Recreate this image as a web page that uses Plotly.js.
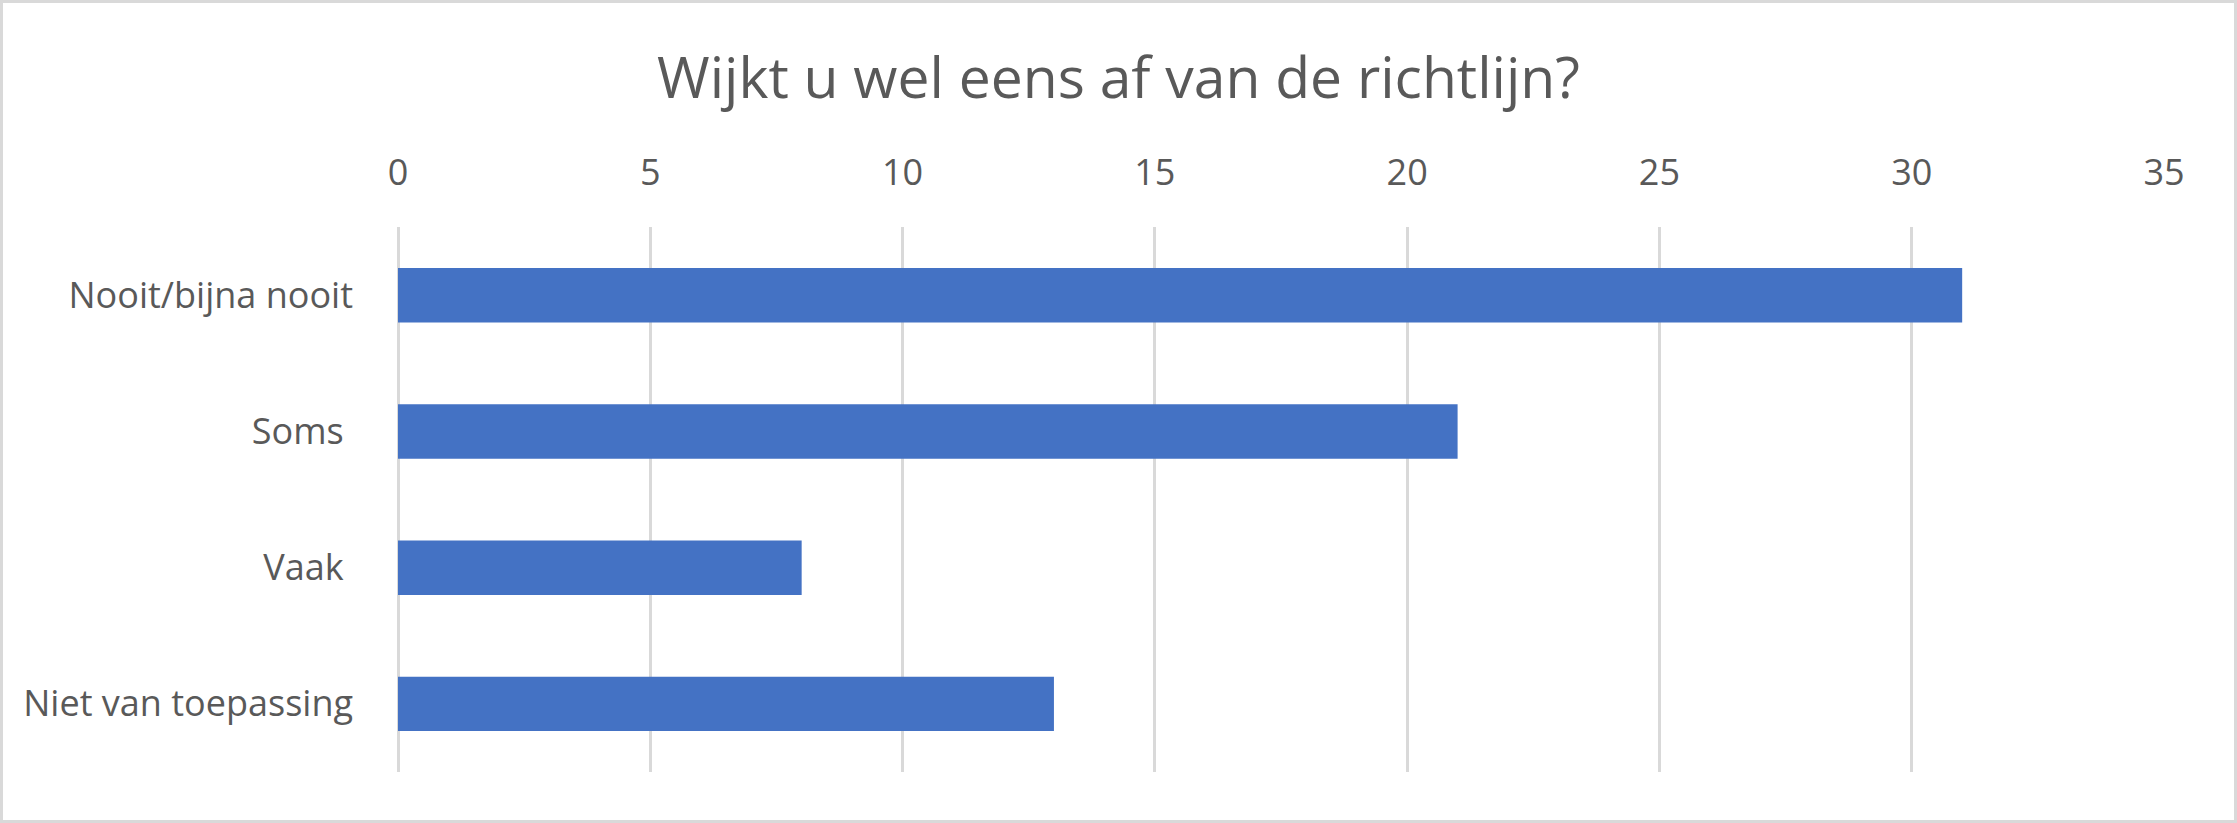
<!DOCTYPE html>
<html>
<head>
<meta charset="utf-8">
<script src="https://cdn.plot.ly/plotly-3.0.1.min.js"></script>
<style>
  html, body { margin: 0; padding: 0; background: #fff; }
  #chart { width: 2237px; height: 823px; box-sizing: border-box; border: 3px solid #D9D9D9; }
</style>
</head>
<body>
<div id="chart"></div>
<script>
const categories = ["Nooit/bijna nooit", "Soms ", "Vaak ", "Niet van toepassing"];
const values = [31, 21, 8, 13];
const xTicks = [0, 5, 10, 15, 20, 25, 30, 35];
const chartTitle = "Wijkt u wel eens af van de richtlijn?";

const font = "Open Sans, Noto Sans, sans-serif";
const textColor = "#595959";

const data = [{
  type: "bar",
  orientation: "h",
  x: values,
  y: categories,
  marker: { color: "#4472C4" },
  hoverinfo: "x+y"
}];

const layout = {
  width: 2231,
  height: 817,
  paper_bgcolor: "#ffffff",
  plot_bgcolor: "#ffffff",
  margin: { l: 395, r: 70, t: 224, b: 48 },
  showlegend: false,
  bargap: 0.6,
  title: {
    text: chartTitle,
    font: { family: font, size: 57, color: textColor },
    x: 0.5, xanchor: "center",
    y: 1 - 75 / 817, yref: "container", yanchor: "middle"
  },
  xaxis: {
    side: "top",
    range: [0, 35],
    tickvals: xTicks,
    ticktext: xTicks.map(String),
    showgrid: true,
    gridcolor: "#D9D9D9",
    gridwidth: 3,
    zeroline: true,
    zerolinecolor: "#D9D9D9",
    zerolinewidth: 3,
    showline: false,
    ticks: "",
    ticklabelstandoff: 34,
    tickfont: { family: font, size: 36, color: textColor },
    fixedrange: true
  },
  yaxis: {
    autorange: "reversed",
    showgrid: false,
    zeroline: false,
    showline: false,
    ticks: "",
    ticklabelstandoff: 44,
    tickfont: { family: font, size: 36, color: textColor },
    fixedrange: true
  }
};

Plotly.newPlot("chart", data, layout, { displayModeBar: false, staticPlot: true });
</script>
</body>
</html>
